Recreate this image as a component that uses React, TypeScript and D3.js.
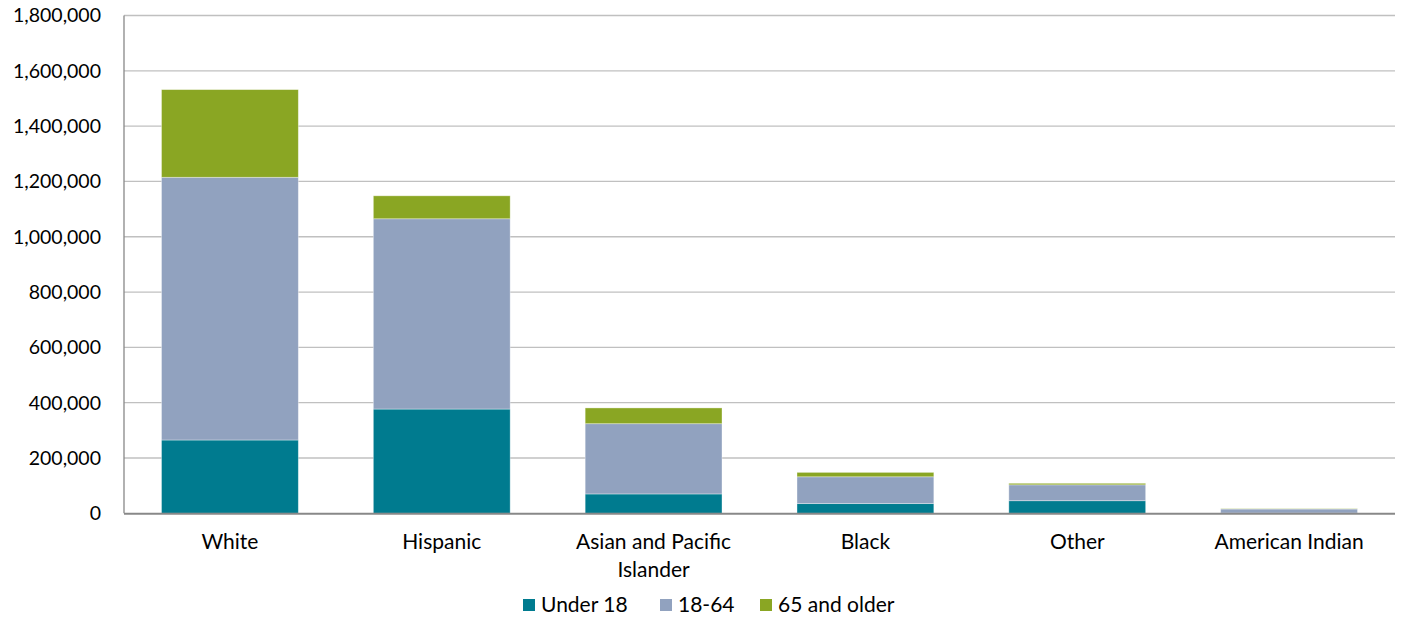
import React, { useEffect, useRef } from 'react';
import * as d3 from 'd3';

const categories = ['White', 'Hispanic', 'Asian and Pacific Islander', 'Black', 'Other', 'American Indian'];
const under18 = [265000, 377000, 70000, 35000, 45500, 1000];
const age18to64 = [950000, 688000, 254000, 97000, 57500, 14500];
const age65plus = [317000, 83000, 57000, 16000, 5500, 1000];
const seriesNames = ['Under 18', '18-64', '65 and older'];
const seriesColors = ['#007B8F', '#91A2BF', '#8AA623'];
const yTicks = [0, 200000, 400000, 600000, 800000, 1000000, 1200000, 1400000, 1600000, 1800000];

const FONT = 'Lato, "Open Sans", sans-serif';

const App: React.FC = () => {
  const ref = useRef<SVGSVGElement | null>(null);

  useEffect(() => {
    if (!ref.current) return;
    const svg = d3.select(ref.current);
    svg.selectAll('*').remove();

    const margin = { top: 15.5, right: 7, left: 124 };
    const W = 1402;
    const width = W - margin.left - margin.right;
    const height = 497.8; // baseline around y=513

    const x = d3.scaleBand().domain(categories).range([0, width]).paddingInner(0.354).paddingOuter(0.177);
    const y = d3.scaleLinear().domain([0, 1800000]).range([height, 0]);

    const g = svg.append('g').attr('transform', `translate(${margin.left},${margin.top})`);

    // gridlines
    g.selectAll('line.grid')
      .data(yTicks.slice(1))
      .enter().append('line')
      .attr('x1', 0).attr('x2', width)
      .attr('y1', d => y(d)).attr('y2', d => y(d))
      .attr('stroke', '#c0c0c0').attr('stroke-width', 1.3);

    // y labels
    g.selectAll('text.ylab')
      .data(yTicks)
      .enter().append('text')
      .attr('x', -23).attr('y', d => y(d))
      .attr('dy', '0.35em')
      .attr('text-anchor', 'end')
      .attr('font-family', FONT).attr('font-size', 19.5).attr('fill', '#000')
      .text(d => d3.format(',')(d));

    // stacked bars
    const rows = categories.map((c, i) => ({ cat: c, s0: under18[i], s1: age18to64[i], s2: age65plus[i] }));
    const stack = d3.stack<any>().keys(['s0', 's1', 's2'])(rows);

    stack.forEach((layer, li) => {
      g.selectAll(`rect.l${li}`)
        .data(layer)
        .enter().append('rect')
        .attr('x', d => x(d.data.cat)!)
        .attr('width', x.bandwidth())
        .attr('y', d => y(d[1]))
        .attr('height', d => Math.max(0, y(d[0]) - y(d[1])))
        .attr('fill', seriesColors[li])
        .attr('stroke', 'rgba(255,255,255,0.45)')
        .attr('stroke-width', 0.8);
    });

    // axes lines
    g.append('line')
      .attr('x1', 0).attr('x2', 0).attr('y1', 0).attr('y2', y(0))
      .attr('stroke', '#888').attr('stroke-width', 1.3);
    g.append('line')
      .attr('x1', 0).attr('x2', width).attr('y1', y(0) + 0.5).attr('y2', y(0) + 0.5)
      .attr('stroke', '#888').attr('stroke-width', 2);

    // x labels
    const wrap: Record<string, string[]> = { 'Asian and Pacific Islander': ['Asian and Pacific', 'Islander'] };
    categories.forEach(c => {
      const lines = wrap[c] || [c];
      const t = g.append('text')
        .attr('x', x(c)! + x.bandwidth() / 2)
        .attr('y', y(0) + 36)
        .attr('text-anchor', 'middle')
        .attr('font-family', FONT).attr('font-size', 21).attr('fill', '#000');
      lines.forEach((l, i) => {
        t.append('tspan').attr('x', x(c)! + x.bandwidth() / 2).attr('dy', i === 0 ? 0 : 28).text(l);
      });
    });

    // legend
    const legendX = [523, 660, 760];
    const leg = svg.append('g');
    seriesNames.forEach((n, i) => {
      leg.append('rect')
        .attr('x', legendX[i]).attr('y', 599).attr('width', 12).attr('height', 12)
        .attr('fill', seriesColors[i]);
      leg.append('text')
        .attr('x', legendX[i] + 18).attr('y', 605)
        .attr('dy', '0.35em')
        .attr('font-family', FONT).attr('font-size', 21).attr('fill', '#000')
        .text(n);
    });
  }, []);

  return (
    <svg ref={ref} width={1402} height={618} style={{ position: 'absolute', left: 0, top: 0, background: '#fff' }} />
  );
};

export default App;
